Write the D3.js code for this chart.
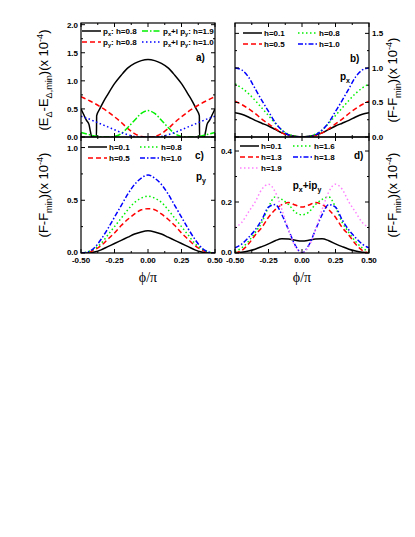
<!DOCTYPE html>
<html lang="en">
<head>
<meta charset="UTF-8">
<title>Energy and free energy vs phi</title>
<script src="https://cdn.jsdelivr.net/npm/d3@7"></script>
<style>
  body { margin: 0; background: #fff; }
  text { font-family: "Liberation Sans", Arial, sans-serif; }
</style>
</head>
<body>
<script>
// ---- data ----
var phi = [-0.5,-0.45,-0.4,-0.35,-0.3,-0.25,-0.2,-0.15,-0.1,-0.05,0,0.05,0.1,0.15,0.2,0.25,0.3,0.35,0.4,0.45,0.5];

// panel a) energy difference
var aPhiPx = [-0.5,-0.48,-0.46,-0.44,-0.43,-0.42,-0.39,-0.385,-0.383,-0.36,-0.33,-0.3,-0.25,-0.2,-0.15,-0.1,-0.05,0,
              0.05,0.1,0.15,0.2,0.25,0.3,0.33,0.36,0.383,0.385,0.39,0.42,0.43,0.44,0.46,0.48,0.5];
var aPx    = [0.5,0.4,0.3,0.22,0.1,0,0,0,0.38,0.5,0.64,0.76,0.95,1.1,1.23,1.31,1.36,1.38,
              1.36,1.31,1.23,1.1,0.95,0.76,0.64,0.5,0.38,0,0,0,0.1,0.22,0.3,0.4,0.5];
var aPy    = [0.72,0.66,0.6,0.53,0.45,0.36,0.26,0.15,0.06,0.01,0,0.01,0.06,0.15,0.26,0.36,0.45,0.53,0.6,0.66,0.72];
var aPxy19 = [0.08,0.05,0.02,0.003,0,0.01,0.06,0.17,0.3,0.42,0.47,0.42,0.3,0.17,0.06,0.01,0,0.003,0.02,0.05,0.08];
var aPxy10 = [0.37,0.33,0.28,0.23,0.18,0.13,0.08,0.04,0.01,0,0,0,0.01,0.04,0.08,0.13,0.18,0.23,0.28,0.33,0.37];

// panel b) p_x
var bH01 = [0.35,0.33,0.29,0.24,0.2,0.16,0.11,0.06,0.03,0.01,0,0.01,0.03,0.06,0.11,0.16,0.2,0.24,0.29,0.33,0.35];
var bH05 = [0.52,0.47,0.41,0.34,0.26,0.19,0.12,0.06,0.02,0.005,0,0.005,0.02,0.06,0.12,0.19,0.26,0.34,0.41,0.47,0.52];
var bH08 = [0.77,0.71,0.63,0.53,0.42,0.31,0.2,0.1,0.04,0.01,0,0.01,0.04,0.1,0.2,0.31,0.42,0.53,0.63,0.71,0.77];
var bH10 = [1.0,0.97,0.87,0.7,0.53,0.37,0.21,0.1,0.03,0.005,0,0.005,0.03,0.1,0.21,0.37,0.53,0.7,0.87,0.97,1.0];

// panel c) p_y
var cH01 = [0,0,0.01,0.03,0.06,0.09,0.12,0.15,0.18,0.2,0.21,0.2,0.18,0.15,0.12,0.09,0.06,0.03,0.01,0,0];
var cH05 = [0,0.005,0.03,0.07,0.13,0.19,0.26,0.32,0.37,0.41,0.42,0.41,0.37,0.32,0.26,0.19,0.13,0.07,0.03,0.005,0];
var cH08 = [0,0.01,0.04,0.09,0.17,0.25,0.33,0.41,0.48,0.52,0.54,0.52,0.48,0.41,0.33,0.25,0.17,0.09,0.04,0.01,0];
var cH10 = [0,0.01,0.05,0.13,0.23,0.34,0.45,0.56,0.65,0.71,0.74,0.71,0.65,0.56,0.45,0.34,0.23,0.13,0.05,0.01,0];

// panel d) p_x + i p_y
var dH01 = [0,0.003,0.008,0.015,0.025,0.036,0.048,0.056,0.055,0.05,0.047,0.05,0.055,0.056,0.048,0.036,0.025,0.015,0.008,0.003,0];
var dH13 = [0,0.01,0.035,0.07,0.1,0.14,0.17,0.19,0.198,0.188,0.18,0.188,0.198,0.19,0.17,0.14,0.1,0.07,0.035,0.01,0];
var dH16 = [0.005,0.02,0.045,0.08,0.12,0.18,0.22,0.21,0.19,0.16,0.15,0.16,0.19,0.21,0.22,0.18,0.12,0.08,0.045,0.02,0.005];
var dH18 = [0.02,0.035,0.06,0.09,0.13,0.18,0.19,0.15,0.09,0.03,0,0.03,0.09,0.15,0.19,0.18,0.13,0.09,0.06,0.035,0.02];
var dH19 = [0.1,0.12,0.16,0.2,0.25,0.27,0.24,0.17,0.09,0.025,0,0.025,0.09,0.17,0.24,0.27,0.25,0.2,0.16,0.12,0.1];

var xTicks = [-0.5,-0.25,0,0.25,0.5];
var xTickLabels = ["-0.50","-0.25","0.00","0.25","0.50"];

// ---- styles ----
var SOLID = null, DASH = "5,3", DOT = "1.5,2.5", DASHDOT = "6,2,1.5,2", DASHDOT2 = "5,2,1.5,2";
var GREEN = "#00f000";

var svg = d3.select("body").append("svg")
    .attr("width", 415)
    .attr("height", 537);

// write text with sub / superscripts
function rich(t, parts, size) {
    var shift = 0;
    parts.forEach(function (p) {
        var str = typeof p === "string" ? p : p[0];
        var kind = typeof p === "string" ? "n" : p[1];
        var target = kind === "sub" ? size * 0.3 : (kind === "sup" ? -size * 0.42 : 0);
        t.append("tspan")
            .attr("dy", target - shift)
            .style("font-size", (kind === "n" ? size : size * 0.7) + "px")
            .text(str);
        shift = target;
    });
}

var clipId = 0;

function panel(p) {
    var x = d3.scaleLinear().domain([-0.5, 0.5]).range([p.left, p.right]);
    var y = d3.scaleLinear().domain([0, p.yMax]).range([p.bottom, p.top]);
    var g = svg.append("g");

    // clip
    clipId++;
    svg.append("clipPath").attr("id", "clip" + clipId)
        .append("rect")
        .attr("x", p.left).attr("y", p.top)
        .attr("width", p.right - p.left).attr("height", p.bottom - p.top);

    var line = d3.line()
        .x(function (d) { return x(d[0]); })
        .y(function (d) { return y(d[1]); })
        .curve(d3.curveMonotoneX);

    p.series.forEach(function (s) {
        var pts = s.ys.map(function (v, i) { return [s.xs[i], v]; });
        g.append("path")
            .attr("clip-path", "url(#clip" + clipId + ")")
            .attr("d", line(pts))
            .attr("fill", "none")
            .attr("stroke", s.color)
            .attr("stroke-width", 1.5)
            .attr("stroke-dasharray", s.dash);
    });

    // frame
    g.append("rect")
        .attr("x", p.left).attr("y", p.top)
        .attr("width", p.right - p.left).attr("height", p.bottom - p.top)
        .attr("fill", "none").attr("stroke", "#000").attr("stroke-width", 1.2);

    // x ticks (inward, top and bottom)
    var xMinor = [-0.375,-0.125,0.125,0.375];
    xTicks.forEach(function (v) {
        g.append("line").attr("x1", x(v)).attr("x2", x(v)).attr("y1", p.bottom).attr("y2", p.bottom - 4).attr("stroke", "#000");
        g.append("line").attr("x1", x(v)).attr("x2", x(v)).attr("y1", p.top).attr("y2", p.top + 4).attr("stroke", "#000");
    });
    xMinor.forEach(function (v) {
        g.append("line").attr("x1", x(v)).attr("x2", x(v)).attr("y1", p.bottom).attr("y2", p.bottom - 2).attr("stroke", "#000");
        g.append("line").attr("x1", x(v)).attr("x2", x(v)).attr("y1", p.top).attr("y2", p.top + 2).attr("stroke", "#000");
    });
    // y ticks (inward, left and right)
    p.yTicks.forEach(function (v) {
        g.append("line").attr("x1", p.left).attr("x2", p.left + 4).attr("y1", y(v)).attr("y2", y(v)).attr("stroke", "#000");
        g.append("line").attr("x1", p.right).attr("x2", p.right - 4).attr("y1", y(v)).attr("y2", y(v)).attr("stroke", "#000");
    });
    p.yMinor.forEach(function (v) {
        g.append("line").attr("x1", p.left).attr("x2", p.left + 2).attr("y1", y(v)).attr("y2", y(v)).attr("stroke", "#000");
        g.append("line").attr("x1", p.right).attr("x2", p.right - 2).attr("y1", y(v)).attr("y2", y(v)).attr("stroke", "#000");
    });

    // y tick labels
    p.yTicks.forEach(function (v, i) {
        var onRight = p.tickSide === "right";
        g.append("text")
            .attr("x", onRight ? p.right + 3 : p.left - 3)
            .attr("y", y(v) + (v === 0 && p.showX ? 1.5 : 3))
            .attr("text-anchor", onRight ? "start" : "end")
            .style("font-size", "8px").style("font-weight", "bold")
            .text(p.yTickLabels[i]);
    });

    // x tick labels
    if (p.showX) {
        xTicks.forEach(function (v, i) {
            g.append("text")
                .attr("x", x(v)).attr("y", p.bottom + 10)
                .attr("text-anchor", "middle")
                .style("font-size", "8px").style("font-weight", "bold")
                .text(xTickLabels[i]);
        });
        g.append("text")
            .attr("x", (p.left + p.right) / 2).attr("y", p.bottom + 29)
            .attr("text-anchor", "middle")
            .style("font-family", "'Liberation Serif', 'Times New Roman', serif")
            .style("font-size", "14px")
            .text("\u03d5/\u03c0");
    }

    // y axis title
    var yt = g.append("text")
        .attr("transform", "translate(" + p.titleX + "," + ((p.top + p.bottom) / 2) + ") rotate(-90)")
        .attr("text-anchor", "middle");
    rich(yt, p.title, 13);

    // legend
    p.legend.forEach(function (e) {
        g.append("line")
            .attr("x1", e.x).attr("x2", e.x + 19)
            .attr("y1", e.y).attr("y2", e.y)
            .attr("stroke", e.color).attr("stroke-width", 1.5)
            .attr("stroke-dasharray", e.dash);
        var t = g.append("text")
            .attr("x", e.x + 21).attr("y", e.y + 3)
            .style("font-weight", "bold");
        rich(t, e.label, 8);
    });

    // panel letter and annotation
    g.append("text").attr("x", p.tag[0]).attr("y", p.tag[1])
        .style("font-size", "10px").style("font-weight", "bold").text(p.tag[2]);
    if (p.note) {
        var nt = g.append("text").attr("x", p.note[0]).attr("y", p.note[1])
            .attr("text-anchor", "middle")
            .style("font-weight", "bold");
        rich(nt, p.note[2], 10);
    }
}

var titleE = ["(E", ["\u0394", "sub"], "-E", ["\u0394,min", "sub"], ")(x 10", ["-4", "sup"], ")"];
var titleF = ["(F-F", ["min", "sub"], ")(x 10", ["-4", "sup"], ")"];

// a)
panel({
    left: 81, right: 215, top: 23, bottom: 137, yMax: 2.03,
    yTicks: [0, 0.5, 1, 1.5, 2], yTickLabels: ["0.0","0.5","1.0","1.5","2.0"],
    yMinor: [0.25, 0.75, 1.25, 1.75], tickSide: "left", showX: false,
    titleX: 48, title: titleE,
    series: [
        { xs: aPhiPx, ys: aPx, color: "#000", dash: SOLID },
        { xs: phi, ys: aPy, color: "#ff0000", dash: DASH },
        { xs: phi, ys: aPxy19, color: GREEN, dash: DASHDOT },
        { xs: phi, ys: aPxy10, color: "#0000ff", dash: DOT }
    ],
    legend: [
        { x: 82, y: 31, color: "#000", dash: SOLID, label: ["p", ["x", "sub"], ": h=0.8"] },
        { x: 82, y: 42, color: "#ff0000", dash: DASH, label: ["p", ["y", "sub"], ": h=0.8"] },
        { x: 142, y: 31, color: GREEN, dash: DASHDOT, label: ["p", ["x", "sub"], "+i p", ["y", "sub"], ": h=1.9"] },
        { x: 142, y: 42, color: "#0000ff", dash: DOT, label: ["p", ["x", "sub"], "+i p", ["y", "sub"], ": h=1.0"] }
    ],
    tag: [196, 61, "a)"]
});

// b)
panel({
    left: 235, right: 369, top: 23, bottom: 137, yMax: 1.65,
    yTicks: [0, 0.5, 1, 1.5], yTickLabels: ["0.0","0.5","1.0","1.5"],
    yMinor: [0.25, 0.75, 1.25], tickSide: "right", showX: false,
    titleX: 397, title: titleF,
    series: [
        { xs: phi, ys: bH01, color: "#000", dash: SOLID },
        { xs: phi, ys: bH05, color: "#ff0000", dash: DASH },
        { xs: phi, ys: bH08, color: GREEN, dash: DOT },
        { xs: phi, ys: bH10, color: "#0000ff", dash: DASHDOT2 }
    ],
    legend: [
        { x: 243, y: 33, color: "#000", dash: SOLID, label: ["h=0.1"] },
        { x: 243, y: 44, color: "#ff0000", dash: DASH, label: ["h=0.5"] },
        { x: 298, y: 33, color: GREEN, dash: DOT, label: ["h=0.8"] },
        { x: 298, y: 44, color: "#0000ff", dash: DASHDOT2, label: ["h=1.0"] }
    ],
    tag: [350, 62, "b)"],
    note: [345, 80, ["p", ["x", "sub"]]]
});

// c)
panel({
    left: 81, right: 215, top: 137, bottom: 253, yMax: 1.1,
    yTicks: [0, 0.5, 1], yTickLabels: ["0.0","0.5","1.0"],
    yMinor: [0.25, 0.75], tickSide: "left", showX: true,
    titleX: 48, title: titleF,
    series: [
        { xs: phi, ys: cH01, color: "#000", dash: SOLID },
        { xs: phi, ys: cH05, color: "#ff0000", dash: DASH },
        { xs: phi, ys: cH08, color: GREEN, dash: DOT },
        { xs: phi, ys: cH10, color: "#0000ff", dash: DASHDOT2 }
    ],
    legend: [
        { x: 88, y: 147, color: "#000", dash: SOLID, label: ["h=0.1"] },
        { x: 88, y: 158, color: "#ff0000", dash: DASH, label: ["h=0.5"] },
        { x: 140, y: 147, color: GREEN, dash: DOT, label: ["h=0.8"] },
        { x: 140, y: 158, color: "#0000ff", dash: DASHDOT2, label: ["h=1.0"] }
    ],
    tag: [195, 159, "c)"],
    note: [201, 180, ["p", ["y", "sub"]]]
});

// d)
panel({
    left: 235, right: 369, top: 137, bottom: 253, yMax: 0.455,
    yTicks: [0, 0.2, 0.4], yTickLabels: ["0.0","0.2","0.4"],
    yMinor: [0.1, 0.3], tickSide: "left", showX: true,
    titleX: 397, title: titleF,
    series: [
        { xs: phi, ys: dH01, color: "#000", dash: SOLID },
        { xs: phi, ys: dH13, color: "#ff0000", dash: DASH },
        { xs: phi, ys: dH16, color: GREEN, dash: DOT },
        { xs: phi, ys: dH18, color: "#0000ff", dash: DASHDOT2 },
        { xs: phi, ys: dH19, color: "#ff80ff", dash: DOT }
    ],
    legend: [
        { x: 240, y: 146, color: "#000", dash: SOLID, label: ["h=0.1"] },
        { x: 240, y: 157, color: "#ff0000", dash: DASH, label: ["h=1.3"] },
        { x: 240, y: 168, color: "#ff80ff", dash: DOT, label: ["h=1.9"] },
        { x: 293, y: 146, color: GREEN, dash: DOT, label: ["h=1.6"] },
        { x: 293, y: 157, color: "#0000ff", dash: DASHDOT2, label: ["h=1.8"] }
    ],
    tag: [354, 159, "d)"],
    note: [307, 189, ["p", ["x", "sub"], "+ip", ["y", "sub"]]]
});
</script>
</body>
</html>
